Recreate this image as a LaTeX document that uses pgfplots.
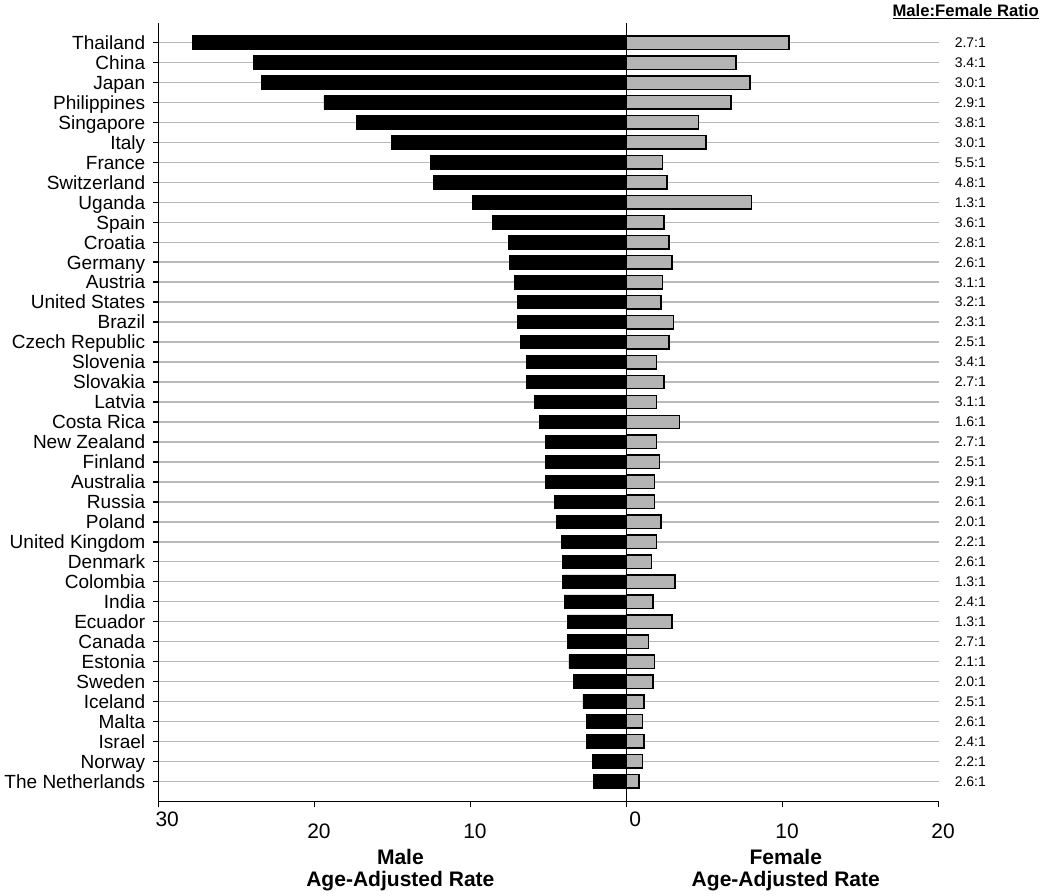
\documentclass[border=0pt]{standalone}
\usepackage{fontspec}
\setmainfont{Liberation Sans}
\usepackage{pgfplots}
\pgfplotsset{compat=1.18}
\usepackage{pgfplotstable}
\definecolor{fgray}{RGB}{180,180,180}
\definecolor{gridgray}{RGB}{185,185,185}

\pgfplotstableread{
y male female
38 -27.8 10.4
37 -23.9 7.0
36 -23.4 7.9
35 -19.4 6.7
34 -17.3 4.6
33 -15.1 5.1
32 -12.6 2.3
31 -12.4 2.6
30 -9.9 8.0
29 -8.6 2.4
28 -7.6 2.7
27 -7.5 2.9
26 -7.2 2.3
25 -7.0 2.2
24 -7.0 3.0
23 -6.8 2.7
22 -6.4 1.9
21 -6.4 2.4
20 -5.9 1.9
19 -5.6 3.4
18 -5.2 1.9
17 -5.2 2.1
16 -5.2 1.8
15 -4.6 1.8
14 -4.5 2.2
13 -4.2 1.9
12 -4.1 1.6
11 -4.1 3.1
10 -4.0 1.7
9 -3.8 2.9
8 -3.8 1.4
7 -3.7 1.8
6 -3.4 1.7
5 -2.8 1.1
4 -2.6 1.0
3 -2.6 1.1
2 -2.2 1.0
1 -2.1 0.8
}\data

\begin{document}
\begin{tikzpicture}
\begin{axis}[
  scale only axis, width=586.1pt, height=585pt,
  xmin=-30, xmax=20, ymin=0, ymax=39,
  axis x line*=bottom, axis y line*=left,
  axis line style={-, line width=1.1pt, black},
  tick align=outside, major tick length=4.5pt,
  tick style={line width=1.1pt, black},
  xtick={-30,0}, xticklabels={30,0},
  extra x ticks={-20,-10,10,20},
  extra x tick labels={20,10,10,20},
  extra x tick style={xticklabel style={yshift=-9pt, xshift=-3.2pt}},
  xticklabel style={font=\fontsize{15.75pt}{18pt}\selectfont, xshift=6.5pt},
  ytick={1,...,38},
  yticklabels={The Netherlands,Norway,Israel,Malta,Iceland,Sweden,Estonia,Canada,Ecuador,India,Colombia,Denmark,United Kingdom,Poland,Russia,Australia,Finland,New Zealand,Costa Rica,Latvia,Slovakia,Slovenia,Czech Republic,Brazil,United States,Austria,Germany,Croatia,Spain,Uganda,Switzerland,France,Italy,Singapore,Philippines,Japan,China,Thailand},
  yticklabel style={font=\fontsize{14.3pt}{16pt}\selectfont, xshift=-2pt, text height=10.2pt, text depth=0pt},
  ymajorgrids, major grid style={draw=gridgray, line width=1.1pt},
  clip=false,
]
\addplot[xbar, bar width=10.1pt, bar shift=0pt, fill=black, draw=black, line width=0.6pt] table[x=male, y=y] {\data};
\addplot[xbar, bar width=10.1pt, bar shift=0pt, fill=fgray, draw=black, line width=1.1pt] table[x=female, y=y] {\data};
\draw[line width=1.1pt] (axis cs:0,0) -- (axis cs:0,39);
\node[anchor=base, font=\fontsize{15.8pt}{18pt}\selectfont\bfseries] at (axis cs:-14.5,0) [yshift=-47.5pt] {Male};
\node[anchor=base, font=\fontsize{15.8pt}{18pt}\selectfont\bfseries] at (axis cs:-14.5,0) [yshift=-64.1pt] {Age-Adjusted Rate};
\node[anchor=base, font=\fontsize{15.8pt}{18pt}\selectfont\bfseries] at (axis cs:10.2,0) [yshift=-47.5pt] {Female};
\node[anchor=base, font=\fontsize{15.8pt}{18pt}\selectfont\bfseries] at (axis cs:10.2,0) [yshift=-64.1pt] {Age-Adjusted Rate};
\node[anchor=base, font=\fontsize{12.5pt}{14pt}\selectfont\bfseries] at (rel axis cs:1,1) [xshift=20.25pt, yshift=4.6pt] {\underline{Male:Female Ratio}};
\path (rel axis cs:0,0) ++(-117.75pt,-70.9pt);
\path (rel axis cs:1,1) ++(83.6pt,13.9pt);
\end{axis}
\begin{axis}[
  scale only axis, width=586.1pt, height=585pt,
  xmin=-30, xmax=20, ymin=0, ymax=39,
  axis x line=none, axis y line*=right,
  axis line style={draw=none},
  ytick={1,...,38},
  yticklabels={2.6:1,2.2:1,2.4:1,2.6:1,2.5:1,2.0:1,2.1:1,2.7:1,1.3:1,2.4:1,1.3:1,2.6:1,2.2:1,2.0:1,2.6:1,2.9:1,2.5:1,2.7:1,1.6:1,3.1:1,2.7:1,3.4:1,2.5:1,2.3:1,3.2:1,3.1:1,2.6:1,2.8:1,3.6:1,1.3:1,4.8:1,5.5:1,3.0:1,3.8:1,2.9:1,3.0:1,3.4:1,2.7:1},
  ytick style={draw=none}, major tick length=0pt,
  yticklabel style={font=\fontsize{10.5pt}{12pt}\selectfont, anchor=west, xshift=8.5pt},
]
\end{axis}
\end{tikzpicture}
\end{document}
